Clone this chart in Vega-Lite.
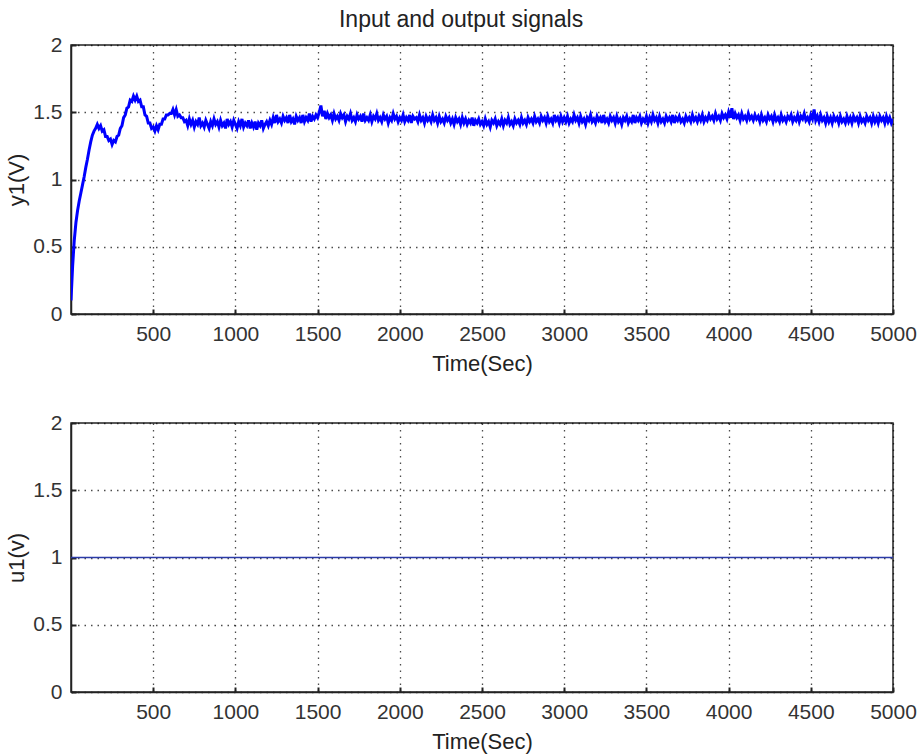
{
  "$schema": "https://vega.github.io/schema/vega-lite/v6.json",
  "padding": {"left": 5, "top": 9, "right": 10, "bottom": 2},
  "background": "white",
  "title": {"text": "Input and output signals", "fontSize": 23, "font": "Liberation Sans", "fontWeight": "normal", "color": "#222", "anchor": "middle", "offset": 1},
  "spacing": 109,
  "bounds": "flush",
  "config": {
    "view": {"stroke": "#222", "strokeWidth": 1.5},
    "axis": {
      "labelFont": "Liberation Sans", "labelFontSize": 21, "labelColor": "#333",
      "titleFont": "Liberation Sans", "titleFontSize": 22, "titleFontWeight": "normal", "titleColor": "#222",
      "domainColor": "#222", "domainWidth": 1.5,
      "tickColor": "#222", "tickSize": -5, "tickWidth": 2,
      "labelFlush": false,
      "grid": true, "gridColor": "#000", "gridOpacity": 0.7, "gridDash": [1.5, 5], "gridWidth": 1.3
    },
    "axisX": {"labelPadding": 14, "titlePadding": 9, "format": "d"},
    "axisY": {"labelPadding": 14, "titlePadding": 4, "format": "~g"}
  },
  "datasets": {
    "y1": [
{"t":0,"v":0.10},{"t":10,"v":0.36},{"t":20,"v":0.55},{"t":30,"v":0.68},{"t":40,"v":0.77},{"t":50,"v":0.84},{"t":60,"v":0.90},{"t":70,"v":0.96},{"t":80,"v":1.02},{"t":90,"v":1.09},
{"t":100,"v":1.15},{"t":110,"v":1.22},{"t":120,"v":1.28},{"t":130,"v":1.33},{"t":140,"v":1.36},{"t":150,"v":1.38},{"t":160,"v":1.41},{"t":170,"v":1.38},{"t":180,"v":1.40},{"t":190,"v":1.36},
{"t":200,"v":1.37},{"t":210,"v":1.32},{"t":220,"v":1.32},{"t":230,"v":1.29},{"t":240,"v":1.30},{"t":250,"v":1.26},{"t":260,"v":1.29},{"t":270,"v":1.28},{"t":280,"v":1.32},{"t":290,"v":1.33},
{"t":300,"v":1.38},{"t":310,"v":1.40},{"t":320,"v":1.46},{"t":330,"v":1.48},{"t":340,"v":1.53},{"t":350,"v":1.54},{"t":360,"v":1.59},{"t":370,"v":1.58},{"t":380,"v":1.62},{"t":390,"v":1.59},
{"t":400,"v":1.62},{"t":410,"v":1.58},{"t":420,"v":1.59},{"t":430,"v":1.54},{"t":440,"v":1.54},{"t":450,"v":1.48},{"t":460,"v":1.47},{"t":470,"v":1.42},{"t":480,"v":1.42},{"t":490,"v":1.38},
{"t":500,"v":1.39},{"t":510,"v":1.36},{"t":520,"v":1.40},{"t":530,"v":1.37},{"t":540,"v":1.41},{"t":550,"v":1.41},{"t":560,"v":1.45},{"t":570,"v":1.45},{"t":580,"v":1.48},{"t":590,"v":1.48},
{"t":600,"v":1.49},{"t":610,"v":1.49},{"t":620,"v":1.52},{"t":630,"v":1.48},{"t":640,"v":1.52},{"t":650,"v":1.47},{"t":660,"v":1.48},{"t":670,"v":1.46},{"t":680,"v":1.46},{"t":690,"v":1.43},
{"t":700,"v":1.44},{"t":710,"v":1.40},{"t":720,"v":1.45},{"t":730,"v":1.41},{"t":740,"v":1.44},{"t":750,"v":1.39},{"t":760,"v":1.43},{"t":770,"v":1.41},{"t":780,"v":1.46},{"t":790,"v":1.40},
{"t":800,"v":1.42},{"t":810,"v":1.39},{"t":820,"v":1.44},{"t":830,"v":1.41},{"t":840,"v":1.38},{"t":850,"v":1.43},{"t":860,"v":1.40},{"t":870,"v":1.45},{"t":880,"v":1.41},{"t":890,"v":1.43},
{"t":900,"v":1.39},{"t":910,"v":1.44},{"t":920,"v":1.40},{"t":930,"v":1.42},{"t":940,"v":1.38},{"t":950,"v":1.45},{"t":960,"v":1.41},{"t":970,"v":1.43},{"t":980,"v":1.39},{"t":990,"v":1.44},
{"t":1000,"v":1.41},{"t":1010,"v":1.38},{"t":1020,"v":1.43},{"t":1030,"v":1.40},{"t":1040,"v":1.45},{"t":1050,"v":1.39},{"t":1060,"v":1.42},{"t":1070,"v":1.40},{"t":1080,"v":1.44},{"t":1090,"v":1.38},
{"t":1100,"v":1.42},{"t":1110,"v":1.39},{"t":1120,"v":1.43},{"t":1130,"v":1.37},{"t":1140,"v":1.42},{"t":1150,"v":1.40},{"t":1160,"v":1.44},{"t":1170,"v":1.38},{"t":1180,"v":1.41},{"t":1190,"v":1.43},
{"t":1200,"v":1.40},{"t":1210,"v":1.44},{"t":1220,"v":1.41},{"t":1230,"v":1.46},{"t":1240,"v":1.42},{"t":1250,"v":1.48},{"t":1260,"v":1.43},{"t":1270,"v":1.45},{"t":1280,"v":1.42},{"t":1290,"v":1.47},
{"t":1300,"v":1.44},{"t":1310,"v":1.46},{"t":1320,"v":1.42},{"t":1330,"v":1.48},{"t":1340,"v":1.43},{"t":1350,"v":1.45},{"t":1360,"v":1.41},{"t":1370,"v":1.47},{"t":1380,"v":1.44},{"t":1390,"v":1.46},
{"t":1400,"v":1.42},{"t":1410,"v":1.48},{"t":1420,"v":1.43},{"t":1430,"v":1.46},{"t":1440,"v":1.44},{"t":1450,"v":1.49},{"t":1460,"v":1.43},{"t":1470,"v":1.47},{"t":1480,"v":1.45},{"t":1490,"v":1.48},
{"t":1500,"v":1.46},{"t":1510,"v":1.50},{"t":1520,"v":1.55},{"t":1530,"v":1.47},{"t":1540,"v":1.51},{"t":1550,"v":1.45},{"t":1560,"v":1.49},{"t":1570,"v":1.46},{"t":1580,"v":1.48},{"t":1590,"v":1.44},
{"t":1600,"v":1.49},{"t":1610,"v":1.45},{"t":1620,"v":1.47},{"t":1630,"v":1.44},{"t":1640,"v":1.49},{"t":1650,"v":1.46},{"t":1660,"v":1.48},{"t":1670,"v":1.43},{"t":1680,"v":1.47},{"t":1690,"v":1.45},
{"t":1700,"v":1.49},{"t":1710,"v":1.44},{"t":1720,"v":1.46},{"t":1730,"v":1.43},{"t":1740,"v":1.48},{"t":1750,"v":1.45},{"t":1760,"v":1.47},{"t":1770,"v":1.43},{"t":1780,"v":1.49},{"t":1790,"v":1.44},
{"t":1800,"v":1.46},{"t":1810,"v":1.44},{"t":1820,"v":1.48},{"t":1830,"v":1.43},{"t":1840,"v":1.47},{"t":1850,"v":1.45},{"t":1860,"v":1.49},{"t":1870,"v":1.44},{"t":1880,"v":1.46},{"t":1890,"v":1.43},
{"t":1900,"v":1.48},{"t":1910,"v":1.45},{"t":1920,"v":1.47},{"t":1930,"v":1.42},{"t":1940,"v":1.46},{"t":1950,"v":1.44},{"t":1960,"v":1.49},{"t":1970,"v":1.45},{"t":1980,"v":1.47},{"t":1990,"v":1.43},
{"t":2000,"v":1.46},{"t":2010,"v":1.44},{"t":2020,"v":1.48},{"t":2030,"v":1.43},{"t":2040,"v":1.46},{"t":2050,"v":1.44},{"t":2060,"v":1.48},{"t":2070,"v":1.42},{"t":2080,"v":1.47},{"t":2090,"v":1.45},
{"t":2100,"v":1.46},{"t":2110,"v":1.43},{"t":2120,"v":1.48},{"t":2130,"v":1.44},{"t":2140,"v":1.46},{"t":2150,"v":1.42},{"t":2160,"v":1.47},{"t":2170,"v":1.44},{"t":2180,"v":1.46},{"t":2190,"v":1.43},
{"t":2200,"v":1.48},{"t":2210,"v":1.44},{"t":2220,"v":1.46},{"t":2230,"v":1.42},{"t":2240,"v":1.47},{"t":2250,"v":1.43},{"t":2260,"v":1.45},{"t":2270,"v":1.42},{"t":2280,"v":1.47},{"t":2290,"v":1.44},
{"t":2300,"v":1.46},{"t":2310,"v":1.42},{"t":2320,"v":1.45},{"t":2330,"v":1.41},{"t":2340,"v":1.46},{"t":2350,"v":1.43},{"t":2360,"v":1.45},{"t":2370,"v":1.41},{"t":2380,"v":1.46},{"t":2390,"v":1.42},
{"t":2400,"v":1.45},{"t":2410,"v":1.41},{"t":2420,"v":1.44},{"t":2430,"v":1.42},{"t":2440,"v":1.46},{"t":2450,"v":1.40},{"t":2460,"v":1.44},{"t":2470,"v":1.42},{"t":2480,"v":1.45},{"t":2490,"v":1.41},
{"t":2500,"v":1.43},{"t":2510,"v":1.40},{"t":2520,"v":1.45},{"t":2530,"v":1.41},{"t":2540,"v":1.43},{"t":2550,"v":1.39},{"t":2560,"v":1.44},{"t":2570,"v":1.42},{"t":2580,"v":1.45},{"t":2590,"v":1.40},
{"t":2600,"v":1.43},{"t":2610,"v":1.41},{"t":2620,"v":1.45},{"t":2630,"v":1.40},{"t":2640,"v":1.44},{"t":2650,"v":1.42},{"t":2660,"v":1.46},{"t":2670,"v":1.41},{"t":2680,"v":1.43},{"t":2690,"v":1.40},
{"t":2700,"v":1.45},{"t":2710,"v":1.42},{"t":2720,"v":1.44},{"t":2730,"v":1.41},{"t":2740,"v":1.46},{"t":2750,"v":1.42},{"t":2760,"v":1.44},{"t":2770,"v":1.41},{"t":2780,"v":1.46},{"t":2790,"v":1.43},
{"t":2800,"v":1.45},{"t":2810,"v":1.42},{"t":2820,"v":1.47},{"t":2830,"v":1.43},{"t":2840,"v":1.45},{"t":2850,"v":1.42},{"t":2860,"v":1.47},{"t":2870,"v":1.44},{"t":2880,"v":1.46},{"t":2890,"v":1.42},
{"t":2900,"v":1.47},{"t":2910,"v":1.43},{"t":2920,"v":1.45},{"t":2930,"v":1.42},{"t":2940,"v":1.48},{"t":2950,"v":1.44},{"t":2960,"v":1.46},{"t":2970,"v":1.42},{"t":2980,"v":1.47},{"t":2990,"v":1.43},
{"t":3000,"v":1.46},{"t":3010,"v":1.43},{"t":3020,"v":1.47},{"t":3030,"v":1.42},{"t":3040,"v":1.45},{"t":3050,"v":1.43},{"t":3060,"v":1.48},{"t":3070,"v":1.44},{"t":3080,"v":1.46},{"t":3090,"v":1.42},
{"t":3100,"v":1.47},{"t":3110,"v":1.43},{"t":3120,"v":1.45},{"t":3130,"v":1.41},{"t":3140,"v":1.46},{"t":3150,"v":1.44},{"t":3160,"v":1.48},{"t":3170,"v":1.43},{"t":3180,"v":1.45},{"t":3190,"v":1.42},
{"t":3200,"v":1.47},{"t":3210,"v":1.44},{"t":3220,"v":1.46},{"t":3230,"v":1.42},{"t":3240,"v":1.48},{"t":3250,"v":1.43},{"t":3260,"v":1.45},{"t":3270,"v":1.42},{"t":3280,"v":1.47},{"t":3290,"v":1.44},
{"t":3300,"v":1.46},{"t":3310,"v":1.42},{"t":3320,"v":1.47},{"t":3330,"v":1.43},{"t":3340,"v":1.45},{"t":3350,"v":1.41},{"t":3360,"v":1.46},{"t":3370,"v":1.44},{"t":3380,"v":1.47},{"t":3390,"v":1.42},
{"t":3400,"v":1.45},{"t":3410,"v":1.43},{"t":3420,"v":1.48},{"t":3430,"v":1.42},{"t":3440,"v":1.46},{"t":3450,"v":1.44},{"t":3460,"v":1.47},{"t":3470,"v":1.42},{"t":3480,"v":1.45},{"t":3490,"v":1.43},
{"t":3500,"v":1.47},{"t":3510,"v":1.42},{"t":3520,"v":1.46},{"t":3530,"v":1.43},{"t":3540,"v":1.48},{"t":3550,"v":1.44},{"t":3560,"v":1.46},{"t":3570,"v":1.42},{"t":3580,"v":1.47},{"t":3590,"v":1.43},
{"t":3600,"v":1.45},{"t":3610,"v":1.42},{"t":3620,"v":1.47},{"t":3630,"v":1.44},{"t":3640,"v":1.46},{"t":3650,"v":1.43},{"t":3660,"v":1.48},{"t":3670,"v":1.42},{"t":3680,"v":1.46},{"t":3690,"v":1.44},
{"t":3700,"v":1.47},{"t":3710,"v":1.43},{"t":3720,"v":1.45},{"t":3730,"v":1.42},{"t":3740,"v":1.47},{"t":3750,"v":1.44},{"t":3760,"v":1.46},{"t":3770,"v":1.43},{"t":3780,"v":1.48},{"t":3790,"v":1.44},
{"t":3800,"v":1.46},{"t":3810,"v":1.43},{"t":3820,"v":1.47},{"t":3830,"v":1.44},{"t":3840,"v":1.48},{"t":3850,"v":1.43},{"t":3860,"v":1.46},{"t":3870,"v":1.44},{"t":3880,"v":1.48},{"t":3890,"v":1.45},
{"t":3900,"v":1.47},{"t":3910,"v":1.44},{"t":3920,"v":1.49},{"t":3930,"v":1.45},{"t":3940,"v":1.47},{"t":3950,"v":1.44},{"t":3960,"v":1.49},{"t":3970,"v":1.46},{"t":3980,"v":1.48},{"t":3990,"v":1.45},
{"t":4000,"v":1.50},{"t":4010,"v":1.46},{"t":4020,"v":1.53},{"t":4030,"v":1.45},{"t":4040,"v":1.49},{"t":4050,"v":1.46},{"t":4060,"v":1.48},{"t":4070,"v":1.44},{"t":4080,"v":1.49},{"t":4090,"v":1.45},
{"t":4100,"v":1.47},{"t":4110,"v":1.44},{"t":4120,"v":1.49},{"t":4130,"v":1.45},{"t":4140,"v":1.47},{"t":4150,"v":1.44},{"t":4160,"v":1.48},{"t":4170,"v":1.45},{"t":4180,"v":1.47},{"t":4190,"v":1.43},
{"t":4200,"v":1.48},{"t":4210,"v":1.44},{"t":4220,"v":1.46},{"t":4230,"v":1.43},{"t":4240,"v":1.48},{"t":4250,"v":1.45},{"t":4260,"v":1.47},{"t":4270,"v":1.43},{"t":4280,"v":1.48},{"t":4290,"v":1.44},
{"t":4300,"v":1.46},{"t":4310,"v":1.43},{"t":4320,"v":1.48},{"t":4330,"v":1.44},{"t":4340,"v":1.46},{"t":4350,"v":1.43},{"t":4360,"v":1.47},{"t":4370,"v":1.45},{"t":4380,"v":1.48},{"t":4390,"v":1.43},
{"t":4400,"v":1.46},{"t":4410,"v":1.44},{"t":4420,"v":1.48},{"t":4430,"v":1.43},{"t":4440,"v":1.47},{"t":4450,"v":1.45},{"t":4460,"v":1.49},{"t":4470,"v":1.44},{"t":4480,"v":1.46},{"t":4490,"v":1.43},
{"t":4500,"v":1.48},{"t":4510,"v":1.45},{"t":4520,"v":1.52},{"t":4530,"v":1.44},{"t":4540,"v":1.47},{"t":4550,"v":1.43},{"t":4560,"v":1.48},{"t":4570,"v":1.44},{"t":4580,"v":1.46},{"t":4590,"v":1.42},
{"t":4600,"v":1.47},{"t":4610,"v":1.43},{"t":4620,"v":1.46},{"t":4630,"v":1.42},{"t":4640,"v":1.47},{"t":4650,"v":1.44},{"t":4660,"v":1.46},{"t":4670,"v":1.42},{"t":4680,"v":1.47},{"t":4690,"v":1.43},
{"t":4700,"v":1.45},{"t":4710,"v":1.42},{"t":4720,"v":1.47},{"t":4730,"v":1.43},{"t":4740,"v":1.46},{"t":4750,"v":1.42},{"t":4760,"v":1.47},{"t":4770,"v":1.44},{"t":4780,"v":1.46},{"t":4790,"v":1.42},
{"t":4800,"v":1.47},{"t":4810,"v":1.43},{"t":4820,"v":1.45},{"t":4830,"v":1.42},{"t":4840,"v":1.47},{"t":4850,"v":1.44},{"t":4860,"v":1.46},{"t":4870,"v":1.42},{"t":4880,"v":1.47},{"t":4890,"v":1.43},
{"t":4900,"v":1.46},{"t":4910,"v":1.42},{"t":4920,"v":1.47},{"t":4930,"v":1.44},{"t":4940,"v":1.46},{"t":4950,"v":1.42},{"t":4960,"v":1.47},{"t":4970,"v":1.43},{"t":4980,"v":1.46},{"t":4990,"v":1.42},
{"t":5000,"v":1.45}
    ],
    "u1": [{"t":0,"v":1},{"t":5000,"v":1}]
  },
  "vconcat": [
    {
      "width": 822, "height": 269,
      "data": {"name": "y1"},
      "mark": {"type": "line", "color": "#0000FF", "strokeWidth": 3, "clip": true},
      "encoding": {
        "x": {"field": "t", "type": "quantitative", "scale": {"domain": [0, 5000], "nice": false}, "axis": {"title": "Time(Sec)", "values": [500,1000,1500,2000,2500,3000,3500,4000,4500,5000]}},
        "y": {"field": "v", "type": "quantitative", "scale": {"domain": [0, 2], "nice": false, "zero": false}, "axis": {"title": "y1(V)", "values": [0,0.5,1,1.5,2]}}
      }
    },
    {
      "width": 822, "height": 269,
      "data": {"name": "u1"},
      "mark": {"type": "line", "color": "#2B3BA8", "strokeWidth": 1.5},
      "encoding": {
        "x": {"field": "t", "type": "quantitative", "scale": {"domain": [0, 5000], "nice": false}, "axis": {"title": "Time(Sec)", "values": [500,1000,1500,2000,2500,3000,3500,4000,4500,5000]}},
        "y": {"field": "v", "type": "quantitative", "scale": {"domain": [0, 2], "nice": false, "zero": false}, "axis": {"title": "u1(v)", "values": [0,0.5,1,1.5,2]}}
      }
    }
  ]
}
